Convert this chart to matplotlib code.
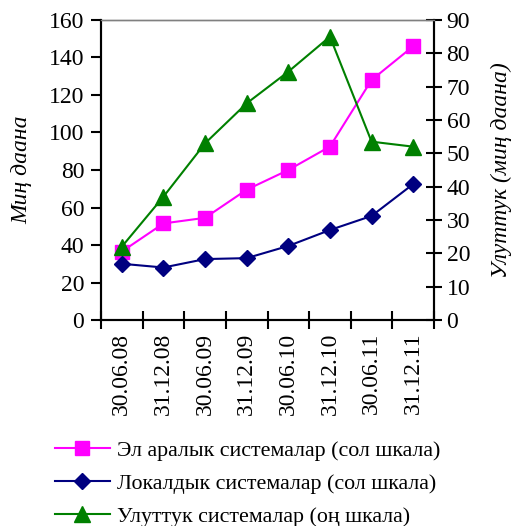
import matplotlib
matplotlib.use("Agg")
import matplotlib.pyplot as plt
import numpy as np

plt.rcParams['font.family'] = ['Liberation Serif', 'DejaVu Serif']

# data
dates = ['30.06.08', '31.12.08', '30.06.09', '31.12.09',
         '30.06.10', '31.12.10', '30.06.11', '31.12.11']
international = [36.5, 51.5, 54.5, 69.5, 80, 92.5, 128, 146]
local = [30, 28, 32.5, 33, 39.5, 48, 55.5, 72.5]
national = [22, 37, 53, 65, 74.5, 85, 53.5, 52]

lab_int = 'Эл аралык системалар (сол шкала)'
lab_loc = 'Локалдык системалар (сол шкала)'
lab_nat = 'Улуттук системалар (оң шкала)'

fs = 17
fig = plt.figure(figsize=(5.14, 5.26), dpi=100)
ax = fig.add_axes([0.1965, 0.3916, 0.6479, 0.5704])
ax2 = ax.twinx()

x = np.arange(len(dates))
l1, = ax.plot(x, international, color='#FF00FF', marker='s', markersize=10, lw=1.5, label=lab_int)
l2, = ax.plot(x, local, color='#000080', marker='D', markersize=8, lw=1.5, label=lab_loc)
l3, = ax2.plot(x, national, color='#008000', marker='^', markersize=11, lw=1.5, label=lab_nat)

ax.set_xlim(-0.5, len(dates) - 0.5)
ax.set_ylim(0, 160)
ax2.set_ylim(0, 90)
ax.set_yticks(np.arange(0, 161, 20))
ax2.set_yticks(np.arange(0, 91, 10))

ax.set_xticks(np.arange(-0.5, len(dates), 1))
ax.set_xticklabels([])
ax.set_xticks(x, minor=True)
ax.set_xticklabels(dates, minor=True, rotation=90, fontsize=fs)
ax.tick_params(axis='x', which='major', direction='inout', length=13, width=1.5)
ax.tick_params(axis='x', which='minor', length=0, pad=9)
ax.tick_params(axis='y', direction='out', length=7, width=1.5, labelsize=fs, pad=5)
ax2.tick_params(axis='y', direction='inout', length=12, width=1.5, labelsize=fs, pad=3)

for a in (ax, ax2):
    a.spines['top'].set_color('#808080')
    a.spines['top'].set_linewidth(1)
    for s in ('left', 'right', 'bottom'):
        a.spines[s].set_linewidth(1.5)

ax.set_ylabel('Миң даана', fontsize=fs, style='italic', labelpad=12)
ax2.set_ylabel('Улуттук (миң даана)', fontsize=fs, style='italic', labelpad=15)

fig.legend(handles=[l1, l2, l3], loc='upper left', bbox_to_anchor=(0.107, 0.163),
           frameon=False, fontsize=15.8, handlelength=2.5, labelspacing=0.58,
           handletextpad=0.32, borderpad=0, borderaxespad=0)

fig.savefig('out.png', dpi=100)
